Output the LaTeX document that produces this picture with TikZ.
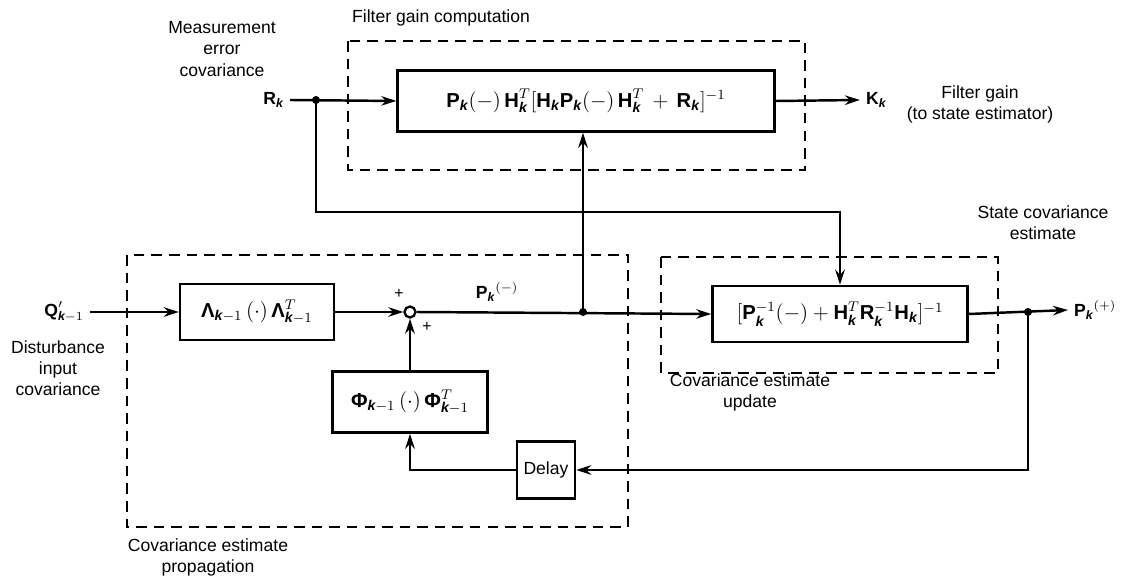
\documentclass[tikz,border=0pt]{standalone}
\usepackage{amsmath}
\usepackage{fontspec}
\setmainfont{Liberation Sans}
\usetikzlibrary{arrows.meta}
\newcommand{\vb}[1]{\text{\bfseries #1}}
\newcommand{\ks}{\text{\bfseries\itshape k}}

\begin{document}
\begin{tikzpicture}[
  x=0.02cm, y=-0.02cm, every node/.style={font=\normalsize},
  blk/.style={draw, line width=1.4pt, align=center, inner sep=2pt, font=\fontsize{11.5}{14}\selectfont},
  grp/.style={draw, line width=1.4pt, dash pattern=on 6pt off 4pt},
  fl/.style={-{Stealth[length=3mm,width=1.9mm]}, line width=1.4pt},
  dot/.style={circle, fill, inner sep=0pt, minimum size=0.16cm},
  sumc/.style={circle, draw, line width=1.3pt, fill=white, inner sep=0pt, minimum size=0.22cm},
  lbl/.style={align=center}
]
\useasboundingbox (0,0) rectangle (1133,577);

% cadres en tirets d'abord, puis les blocs
\draw[grp] (348,41) rectangle (805,170);
\draw[grp] (127,255) rectangle (628,527);
\draw[grp] (661,257) rectangle (998,373);

\node[blk, minimum width=7.54cm, minimum height=1.22cm] (gain) at (586,101)
  {$\vb{P}_{\ks}(-)\,\vb{H}_{\ks}^{T}[\vb{H}_{\ks}\vb{P}_{\ks}(-)\,\vb{H}_{\ks}^{T}\,+\,\vb{R}_{\ks}]^{-1}$};
\node[blk, minimum width=3.08cm, minimum height=1.12cm] (lam) at (257,312)
  {$\vb{Λ}_{\ks-1}\,(\cdot)\,\vb{Λ}_{\ks-1}^{T}$};
\node[blk, minimum width=3.1cm, minimum height=1.22cm] (phi) at (410,402)
  {$\vb{Φ}_{\ks-1}\,(\cdot)\,\vb{Φ}_{\ks-1}^{T}$};
\node[blk, minimum width=1.16cm, minimum height=1.14cm, font=\normalsize] (dly) at (546,470) {Delay};
\node[blk, minimum width=5.1cm, minimum height=1.12cm] (upd) at (840,314)
  {$[\vb{P}_{\ks}^{-1}(-)+\vb{H}_{\ks}^{T}\vb{R}_{\ks}^{-1}\vb{H}_{\ks}]^{-1}$};
\node[sumc] (sum) at (410,312) {};

\node[dot] (rdot) at (316,100) {};
\node[dot] (pdot) at (583,312) {};
\node[dot] (odot) at (1028,312) {};
\coordinate (rlow) at (316,212);

\node[anchor=east] (rk) at (290,100) {$\vb{R}_{\ks}$};
\node[anchor=west] (kk) at (860,100) {$\vb{K}_{\ks}$};
\node[anchor=east] (qin) at (90,312) {$\vb{Q}'_{\ks-1}$};
\node[anchor=west] (pplus) at (1068,310) {$\vb{P}_{\ks}{}^{(+)}$};
\node (pminus) at (497,292) {$\vb{P}_{\ks}{}^{(-)}$};
\node[font=\small] (plusa) at (399,294) {+};
\node[font=\small] (plusb) at (427,327) {+};

\node[anchor=west] (gainlbl) at (346,18) {Filter gain computation};
\node[lbl] (measlbl) at (222,49) {Measurement\\error\\covariance};
\node[lbl] (kklbl) at (980,104) {Filter gain\\(to state estimator)};
\node[lbl] (statelbl) at (1043,223) {State covariance\\estimate};
\node[lbl] (updlbl) at (750,392) {Covariance estimate\\update};
\node[lbl] (distlbl) at (58,368) {Disturbance\\input\\covariance};
\node[lbl] (proplbl) at (208,557) {Covariance estimate\\propagation};

\draw[fl] (rk.east) -- (gain.west);
\draw[fl] (gain.east) -- (kk.west);
\draw[fl] (rdot.center) -- (rlow) -| (upd.north);
\draw[fl] (qin.east) -- (lam.west);
\draw[fl] (lam.east) -- (sum.west);
\draw[fl] (phi.north) -- (sum.south);
\draw[fl] (sum.east) -- (upd.west);
\draw[fl] (pdot.center) -- (pdot.center |- gain.south);
\draw[fl] (upd.east) -- (pplus.west);
\draw[fl] (odot.center) |- (dly.east);
\draw[fl] (dly.west) -| (phi.south);
\end{tikzpicture}
\end{document}
